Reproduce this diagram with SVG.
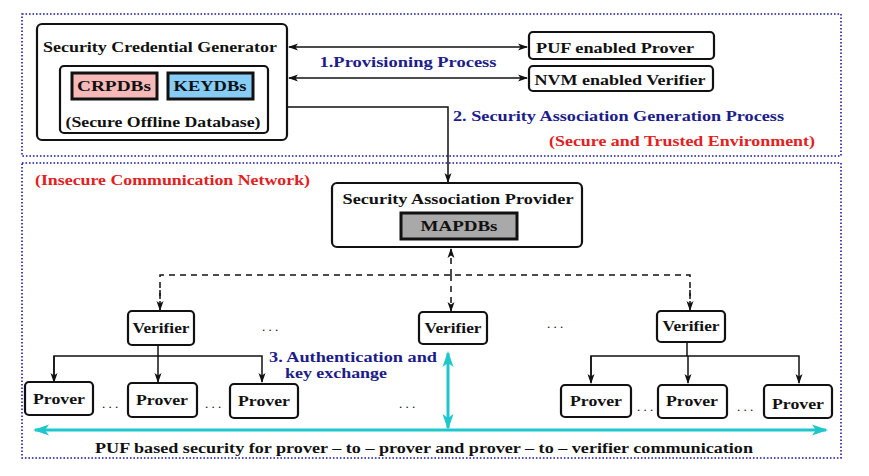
<svg xmlns="http://www.w3.org/2000/svg" width="869" height="476" viewBox="0 0 869 476" font-family="'Liberation Serif', 'DejaVu Serif', serif" font-weight="bold" font-size="15">
<style>
text{fill:#111;}
.c{text-anchor:middle;}
.blue{fill:#1c1c8a;}
.red{fill:#e3201e;}
.box{fill:#fff;stroke:#111;stroke-width:2.2;}
.db{stroke:#111;stroke-width:3;}
.zone{fill:none;stroke:#1a1aa8;stroke-width:1.6;stroke-dasharray:1.6 1.9;}
.ln{fill:none;stroke:#111;stroke-width:1.5;}
.dash{fill:none;stroke:#111;stroke-width:1.5;stroke-dasharray:6 5;}
.cy{fill:none;stroke:#1fc7cc;stroke-width:3;}
.dots{font-weight:normal;font-size:13px;}
</style>
<defs>
<marker id="ah" markerWidth="10" markerHeight="8" refX="9" refY="4" orient="auto" markerUnits="userSpaceOnUse">
<path d="M0,0.5 L10,4 L0,7.5 L2.5,4 z" fill="#111"/>
</marker>
<marker id="ahs" markerWidth="10" markerHeight="8" refX="1" refY="4" orient="auto" markerUnits="userSpaceOnUse">
<path d="M10,0.5 L0,4 L10,7.5 L7.5,4 z" fill="#111"/>
</marker>
<marker id="ch" markerWidth="16" markerHeight="12" refX="14" refY="6" orient="auto" markerUnits="userSpaceOnUse">
<path d="M0,0.5 L16,6 L0,11.5 L4,6 z" fill="#1fc7cc"/>
</marker>
<marker id="chs" markerWidth="16" markerHeight="12" refX="2" refY="6" orient="auto" markerUnits="userSpaceOnUse">
<path d="M16,0.5 L0,6 L16,11.5 L12,6 z" fill="#1fc7cc"/>
</marker>
</defs>

<g id="zones">
<rect class="zone" x="22" y="14" width="819" height="142"/>
<rect class="zone" x="22" y="163" width="819" height="295"/>
<text class="red" x="682" y="146" text-anchor="middle" textLength="266" lengthAdjust="spacingAndGlyphs">(Secure and Trusted Environment)</text>
<text class="red" x="35" y="185" textLength="275" lengthAdjust="spacingAndGlyphs">(Insecure Communication Network)</text>
</g>

<g id="connectors">
<line class="ln" x1="289" y1="47" x2="527" y2="47" marker-start="url(#ahs)" marker-end="url(#ah)"/>
<line class="ln" x1="289" y1="78" x2="527" y2="78" marker-start="url(#ahs)" marker-end="url(#ah)"/>
<polyline class="ln" points="287,107 448,107 448,182" marker-end="url(#ah)"/>
<line class="dash" x1="451" y1="275" x2="451" y2="249" marker-end="url(#ah)"/>
<polyline class="dash" points="160,310 160,275 690,275 690,310"/>
<line class="dash" x1="160" y1="290" x2="160" y2="310" marker-end="url(#ah)"/>
<line class="dash" x1="690" y1="290" x2="690" y2="310" marker-end="url(#ah)"/>
<line class="dash" x1="451" y1="275" x2="451" y2="311" marker-end="url(#ah)"/>
<polyline class="ln" points="158,345 158,356"/>
<polyline class="ln" points="54,382 54,356 262,356 262,382" marker-end="url(#ah)"/>
<line class="ln" x1="54" y1="356" x2="54" y2="382" marker-end="url(#ah)"/>
<line class="ln" x1="158" y1="356" x2="158" y2="382" marker-end="url(#ah)"/>
<polyline class="ln" points="687,342 687,356"/>
<polyline class="ln" points="591,382 591,356 799,356 799,383" marker-end="url(#ah)"/>
<line class="ln" x1="591" y1="356" x2="591" y2="383" marker-end="url(#ah)"/>
<line class="ln" x1="688" y1="356" x2="688" y2="383" marker-end="url(#ah)"/>
<line class="cy" x1="448" y1="353" x2="448" y2="428" marker-start="url(#chs)" marker-end="url(#ch)"/>
<line class="cy" x1="35" y1="430" x2="826" y2="430" marker-start="url(#chs)" marker-end="url(#ch)"/>
<text class="blue c" x="408" y="67" textLength="177" lengthAdjust="spacingAndGlyphs">1.Provisioning Process</text>
<text class="blue" x="453" y="121" textLength="331" lengthAdjust="spacingAndGlyphs">2. Security Association Generation Process</text>
<text class="blue" x="269" y="362" textLength="168" lengthAdjust="spacingAndGlyphs">3. Authentication and</text>
<text class="blue" x="285" y="378" textLength="102" lengthAdjust="spacingAndGlyphs">key exchange</text>
<text class="c" x="424" y="453" textLength="658" lengthAdjust="spacingAndGlyphs">PUF based security for prover – to – prover and prover – to – verifier communication</text>
</g>

<g id="scg">
<rect class="box" x="37" y="24" width="250" height="116" rx="5"/>
<text class="c" x="160" y="52" textLength="234" lengthAdjust="spacingAndGlyphs">Security Credential Generator</text>
<rect class="box" x="60" y="66" width="208" height="67" rx="4"/>
<text class="c" x="163" y="127" textLength="195" lengthAdjust="spacingAndGlyphs">(Secure Offline Database)</text>
</g>
<g id="crpdbs">
<rect class="db" x="72" y="73" width="85" height="26" fill="#f7b9b8"/>
<text class="c" x="114" y="91" textLength="74" lengthAdjust="spacingAndGlyphs">CRPDBs</text>
</g>
<g id="keydbs">
<rect class="db" x="168" y="73" width="85" height="26" fill="#86ccf7"/>
<text class="c" x="210" y="91" textLength="73" lengthAdjust="spacingAndGlyphs">KEYDBs</text>
</g>
<g id="puf-prover">
<rect class="box" x="529" y="32" width="185" height="27" rx="4"/>
<text class="c" x="615" y="53" textLength="158" lengthAdjust="spacingAndGlyphs">PUF enabled Prover</text>
</g>
<g id="nvm-verifier">
<rect class="box" x="529" y="66" width="184" height="25" rx="4"/>
<text class="c" x="620" y="85" textLength="171" lengthAdjust="spacingAndGlyphs">NVM enabled Verifier</text>
</g>
<g id="sap">
<rect class="box" x="332" y="183" width="250" height="64" rx="5"/>
<text class="c" x="458" y="204" textLength="231" lengthAdjust="spacingAndGlyphs">Security Association Provider</text>
</g>
<g id="mapdbs">
<rect class="db" x="401" y="213" width="116" height="26" fill="#a9a9a9"/>
<text class="c" x="459" y="231" textLength="77" lengthAdjust="spacingAndGlyphs">MAPDBs</text>
</g>

<g id="verifier-1"><rect class="box" x="128" y="311" width="66" height="34" rx="4"/><text class="c" x="161" y="333" textLength="57" lengthAdjust="spacingAndGlyphs">Verifier</text></g>
<g id="verifier-2"><rect class="box" x="419" y="312" width="68" height="32" rx="4"/><text class="c" x="453" y="333" textLength="57" lengthAdjust="spacingAndGlyphs">Verifier</text></g>
<g id="verifier-3"><rect class="box" x="657" y="311" width="68" height="31" rx="4"/><text class="c" x="691" y="331" textLength="57" lengthAdjust="spacingAndGlyphs">Verifier</text></g>

<g id="prover-1"><rect class="box" x="25" y="382" width="68" height="33" rx="4"/><text class="c" x="59" y="404" textLength="52" lengthAdjust="spacingAndGlyphs">Prover</text></g>
<g id="prover-2"><rect class="box" x="128" y="383" width="69" height="34" rx="4"/><text class="c" x="162" y="405" textLength="52" lengthAdjust="spacingAndGlyphs">Prover</text></g>
<g id="prover-3"><rect class="box" x="230" y="384" width="68" height="34" rx="4"/><text class="c" x="264" y="406" textLength="52" lengthAdjust="spacingAndGlyphs">Prover</text></g>
<g id="prover-4"><rect class="box" x="561" y="385" width="70" height="32" rx="4"/><text class="c" x="596" y="406" textLength="52" lengthAdjust="spacingAndGlyphs">Prover</text></g>
<g id="prover-5"><rect class="box" x="658" y="385" width="69" height="33" rx="4"/><text class="c" x="692" y="406" textLength="52" lengthAdjust="spacingAndGlyphs">Prover</text></g>
<g id="prover-6"><rect class="box" x="764" y="385" width="68" height="33" rx="4"/><text class="c" x="798" y="409" textLength="52" lengthAdjust="spacingAndGlyphs">Prover</text></g>

<g id="ellipses">
<text class="dots c" x="270" y="331">. . .</text>
<text class="dots c" x="555" y="328">. . .</text>
<text class="dots c" x="110" y="408">. . .</text>
<text class="dots c" x="213" y="408">. . .</text>
<text class="dots c" x="407" y="408">. . .</text>
<text class="dots c" x="645" y="411">. . .</text>
<text class="dots c" x="745" y="411">. . .</text>
</g>
</svg>
